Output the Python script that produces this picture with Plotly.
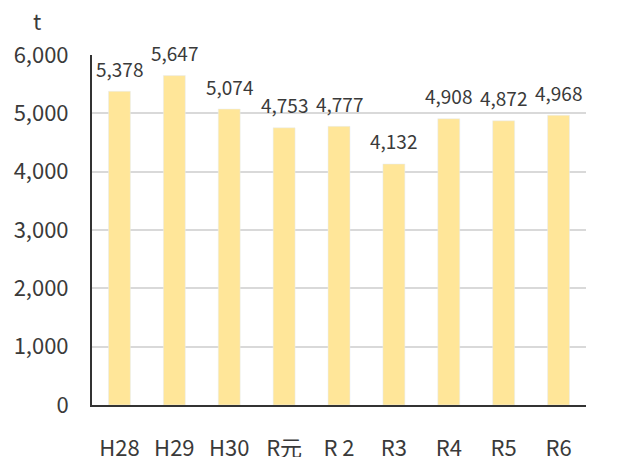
import plotly.graph_objects as go

years = ["H28", "H29", "H30", "R元", "R 2", "R3", "R4", "R5", "R6"]
tonnes = [5378, 5647, 5074, 4753, 4777, 4132, 4908, 4872, 4968]

font_name = "Noto Sans CJK JP"
text_color = "#3a3a3a"

fig = go.Figure(data=[
    go.Bar(x=years, y=tonnes, marker=dict(color="#FFE699"), width=0.4)
])

# value labels above each bar
labels = [dict(x=x, y=v, text=f"{v:,}", xref="x", yref="y", showarrow=False,
               yanchor="middle", yshift=23, font=dict(size=19, color=text_color))
          for x, v in zip(years, tonnes)]

# page body adds 8px offset, so the figure is drawn slightly smaller
fig.update_layout(
    width=620, height=449,
    margin=dict(l=84, r=42, t=47, b=52, autoexpand=False),
    plot_bgcolor="white", paper_bgcolor="white",
    font=dict(family=font_name, color=text_color),
    showlegend=False,
    xaxis=dict(showline=True, linecolor="#333333", linewidth=2,
               tickfont=dict(size=22), ticklabelstandoff=23, automargin=False),
    yaxis=dict(range=[0, 6000], dtick=1000, tickformat=",",
               showline=True, linecolor="#333333", linewidth=2,
               showgrid=True, gridcolor="#D9D9D9", gridwidth=1.5,
               tickfont=dict(size=22), ticklabelstandoff=17, automargin=False),
    annotations=labels + [dict(text="t", xref="paper", yref="paper", x=-0.111, y=1.10,
                               xanchor="center", yanchor="middle", showarrow=False,
                               font=dict(size=22))],
)

fig.write_html("out.html")
